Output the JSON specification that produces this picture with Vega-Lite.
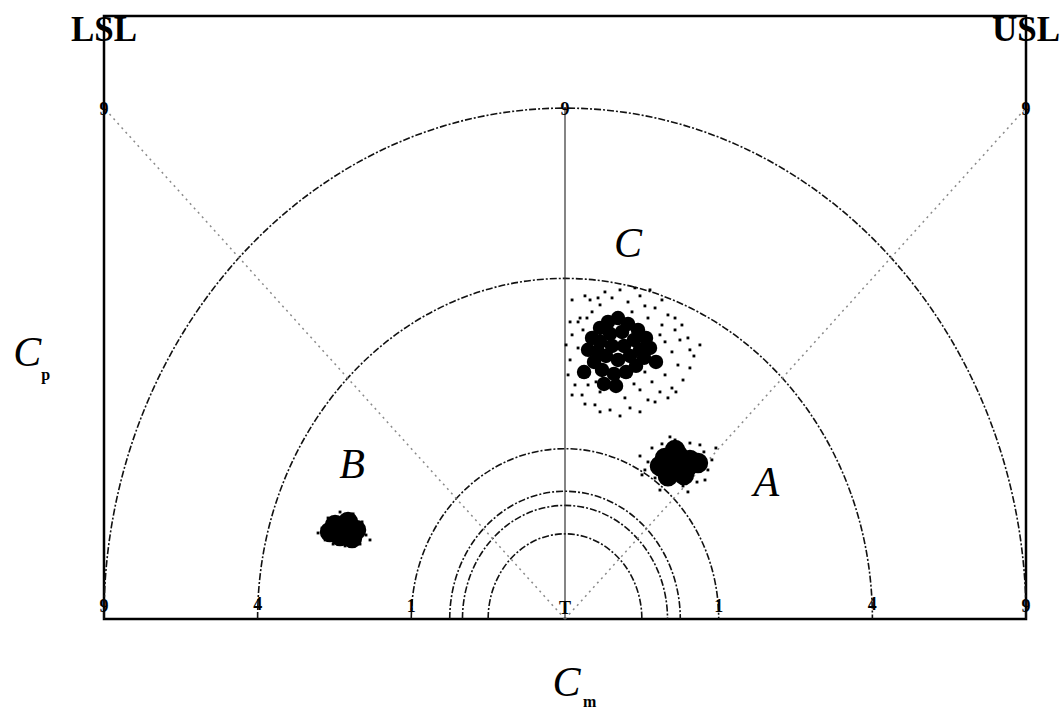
{
  "$schema": "https://vega.github.io/schema/vega-lite/v6.json",
  "width": 922,
  "height": 603,
  "autosize": {"type": "none"},
  "padding": {"left": 104, "top": 16, "right": 34, "bottom": 95},
  "background": "white",
  "config": {"view": {"stroke": "#000", "strokeWidth": 2.5}},
  "datasets": {
    "ellipses": [{"x": 0, "y": 0, "r": 3}, {"x": 0, "y": 0, "r": 2}, {"x": 0, "y": 0, "r": 1}, {"x": 0, "y": 0, "r": 0.75}, {"x": 0, "y": 0, "r": 0.667}, {"x": 0, "y": 0, "r": 0.5}],
    "rules": [
      {"x": 0, "y": 0, "x2": -3, "y2": 3, "kind": "diag"},
      {"x": 0, "y": 0, "x2": 3, "y2": 3, "kind": "diag"},
      {"x": 0, "y": 0, "x2": 0, "y2": 3, "kind": "axis"}
    ],
    "cores": [
      {"g": "A", "x": 0.651, "y": 0.945}, {"g": "A", "x": 0.735, "y": 0.963}, {"g": "A", "x": 0.813, "y": 0.934},
      {"g": "A", "x": 0.696, "y": 0.875}, {"g": "A", "x": 0.787, "y": 0.881}, {"g": "A", "x": 0.618, "y": 0.898},
      {"g": "A", "x": 0.865, "y": 0.916}, {"g": "A", "x": 0.716, "y": 0.992}, {"g": "A", "x": 0.67, "y": 0.838},
      {"g": "A", "x": 0.774, "y": 0.845},
      {"g": "B", "x": -1.496, "y": 0.552}, {"g": "B", "x": -1.412, "y": 0.57}, {"g": "B", "x": -1.36, "y": 0.523},
      {"g": "B", "x": -1.464, "y": 0.487}, {"g": "B", "x": -1.386, "y": 0.476}, {"g": "B", "x": -1.529, "y": 0.511}
    ],
    "coreC": [
      {"x": 0.176, "y": 1.65}, {"x": 0.228, "y": 1.709}, {"x": 0.28, "y": 1.744}, {"x": 0.345, "y": 1.767},
      {"x": 0.41, "y": 1.732}, {"x": 0.475, "y": 1.697}, {"x": 0.527, "y": 1.65}, {"x": 0.553, "y": 1.591},
      {"x": 0.514, "y": 1.533}, {"x": 0.462, "y": 1.486}, {"x": 0.397, "y": 1.45}, {"x": 0.319, "y": 1.439},
      {"x": 0.241, "y": 1.462}, {"x": 0.189, "y": 1.509}, {"x": 0.15, "y": 1.58}, {"x": 0.228, "y": 1.627},
      {"x": 0.293, "y": 1.674}, {"x": 0.371, "y": 1.685}, {"x": 0.449, "y": 1.638}, {"x": 0.488, "y": 1.58},
      {"x": 0.423, "y": 1.544}, {"x": 0.345, "y": 1.521}, {"x": 0.267, "y": 1.544}, {"x": 0.215, "y": 1.568},
      {"x": 0.306, "y": 1.603}, {"x": 0.384, "y": 1.603}, {"x": 0.332, "y": 1.368}, {"x": 0.124, "y": 1.45},
      {"x": 0.592, "y": 1.509}, {"x": 0.254, "y": 1.38}
    ],
    "scatter": [
      {"x": 0.488, "y": 0.957}, {"x": 0.52, "y": 0.875}, {"x": 0.566, "y": 1.004}, {"x": 0.586, "y": 0.828},
      {"x": 0.631, "y": 1.028}, {"x": 0.67, "y": 0.793}, {"x": 0.716, "y": 1.051}, {"x": 0.768, "y": 0.781},
      {"x": 0.813, "y": 1.033}, {"x": 0.859, "y": 0.804}, {"x": 0.904, "y": 0.981}, {"x": 0.93, "y": 0.875},
      {"x": 0.956, "y": 0.934}, {"x": 0.54, "y": 0.922}, {"x": 0.878, "y": 1.022}, {"x": 0.618, "y": 0.757},
      {"x": 0.8, "y": 0.746}, {"x": 0.683, "y": 1.069}, {"x": 0.982, "y": 1.004}, {"x": 0.501, "y": 0.846},
      {"x": 0.911, "y": 0.816},
      {"x": -1.581, "y": 0.534}, {"x": -1.561, "y": 0.464}, {"x": -1.542, "y": 0.593}, {"x": -1.464, "y": 0.628},
      {"x": -1.379, "y": 0.617}, {"x": -1.321, "y": 0.57}, {"x": -1.295, "y": 0.493}, {"x": -1.334, "y": 0.44},
      {"x": -1.431, "y": 0.429}, {"x": -1.509, "y": 0.44}, {"x": -1.269, "y": 0.464}, {"x": -1.607, "y": 0.505},
      {"x": 0.046, "y": 1.873}, {"x": 0.13, "y": 1.897}, {"x": 0.228, "y": 1.844}, {"x": 0.306, "y": 1.885},
      {"x": 0.41, "y": 1.861}, {"x": 0.488, "y": 1.897}, {"x": 0.586, "y": 1.826}, {"x": 0.67, "y": 1.785},
      {"x": 0.098, "y": 1.767}, {"x": 0.176, "y": 1.803}, {"x": 0.54, "y": 1.767}, {"x": 0.631, "y": 1.726},
      {"x": 0.716, "y": 1.697}, {"x": 0.8, "y": 1.65}, {"x": 0.046, "y": 1.668}, {"x": 0.085, "y": 1.591},
      {"x": 0.033, "y": 1.521}, {"x": 0.098, "y": 1.433}, {"x": 0.15, "y": 1.374}, {"x": 0.228, "y": 1.333},
      {"x": 0.306, "y": 1.356}, {"x": 0.39, "y": 1.298}, {"x": 0.488, "y": 1.345}, {"x": 0.566, "y": 1.392},
      {"x": 0.651, "y": 1.433}, {"x": 0.735, "y": 1.491}, {"x": 0.813, "y": 1.58}, {"x": 0.651, "y": 1.627},
      {"x": 0.111, "y": 1.315}, {"x": 0.195, "y": 1.257}, {"x": 0.293, "y": 1.227}, {"x": 0.423, "y": 1.239},
      {"x": 0.54, "y": 1.286}, {"x": 0.618, "y": 1.333}, {"x": 0.065, "y": 1.374}, {"x": 0.878, "y": 1.609},
      {"x": 0.117, "y": 1.697}, {"x": 0.358, "y": 1.932}, {"x": 0.553, "y": 1.932}, {"x": 0.436, "y": 1.803},
      {"x": 0.267, "y": 1.767}, {"x": 0.52, "y": 1.45}, {"x": 0.618, "y": 1.509}, {"x": 0.13, "y": 1.462},
      {"x": 0.696, "y": 1.568}, {"x": 0.345, "y": 1.403}, {"x": 0.202, "y": 1.392}, {"x": 0.449, "y": 1.38},
      {"x": 0.67, "y": 1.298}, {"x": 0.813, "y": 1.474},
      {"x": 0.085, "y": 1.744}, {"x": 0.163, "y": 1.873}, {"x": 0.26, "y": 1.92}, {"x": 0.455, "y": 1.944},
      {"x": 0.631, "y": 1.873}, {"x": 0.716, "y": 1.767}, {"x": 0.761, "y": 1.726}, {"x": 0.839, "y": 1.544},
      {"x": 0.768, "y": 1.403}, {"x": 0.696, "y": 1.356}, {"x": 0.586, "y": 1.274}, {"x": 0.488, "y": 1.216},
      {"x": 0.358, "y": 1.192}, {"x": 0.228, "y": 1.216}, {"x": 0.13, "y": 1.262}, {"x": 0.046, "y": 1.315},
      {"x": 0.02, "y": 1.433}, {"x": 0.007, "y": 1.609}, {"x": 0.033, "y": 1.744}, {"x": 0.618, "y": 1.668},
      {"x": 0.143, "y": 1.767}, {"x": 0.52, "y": 1.838}, {"x": 0.215, "y": 1.885}, {"x": 0.748, "y": 1.638},
      {"x": 0.722, "y": 1.333}
    ],
    "ticks": [
      {"x": -3, "y": 2.99, "t": "9"}, {"x": 0, "y": 2.99, "t": "9"}, {"x": 3, "y": 2.99, "t": "9"},
      {"x": -3, "y": 0.07, "t": "9"}, {"x": -2, "y": 0.08, "t": "4"}, {"x": -1, "y": 0.07, "t": "1"},
      {"x": 0, "y": 0.06, "t": "T"}, {"x": 1, "y": 0.07, "t": "1"}, {"x": 2, "y": 0.08, "t": "4"},
      {"x": 3, "y": 0.07, "t": "9"}
    ],
    "letters": [
      {"x": 0.41, "y": 2.2, "t": "C"}, {"x": -1.386, "y": 0.904, "t": "B"}, {"x": 1.31, "y": 0.8, "t": "A"}
    ],
    "limits": [{"x": -3, "y": 3.54, "t": "LSL"}, {"x": 3, "y": 3.54, "t": "USL"}],
    "titles": [{"x": 0.01, "y": -0.376, "t": "C"}, {"x": -3.5, "y": 1.56, "t": "C"}],
    "subs": [{"x": 0.16, "y": -0.49, "t": "m"}, {"x": -3.38, "y": 1.43, "t": "p"}]
  },
  "encoding": {
    "x": {"field": "x", "type": "quantitative", "scale": {"domain": [-3, 3], "nice": false, "zero": false}, "axis": null},
    "y": {"field": "y", "type": "quantitative", "scale": {"domain": [0, 3.54], "nice": false, "zero": false}, "axis": null}
  },
  "layer": [
    {
      "data": {"name": "ellipses"},
      "mark": {"type": "point", "shape": "M-1,0A1,1.108,0,0,1,1,0", "filled": false, "stroke": "#111", "strokeWidth": 1.6, "strokeDash": [7, 2, 2, 2], "opacity": 1},
      "encoding": {
        "size": {"field": "r", "type": "quantitative", "scale": {"type": "pow", "exponent": 2, "domain": [0, 3], "range": [0, 850453]}, "legend": null}
      }
    },
    {
      "data": {"name": "rules"},
      "transform": [{"filter": "datum.kind === 'diag'"}],
      "mark": {"type": "rule", "stroke": "#8a8a8a", "strokeWidth": 1.5, "strokeDash": [2, 4]},
      "encoding": {"x2": {"field": "x2"}, "y2": {"field": "y2"}}
    },
    {
      "data": {"name": "rules"},
      "transform": [{"filter": "datum.kind === 'axis'"}],
      "mark": {"type": "rule", "stroke": "#333", "strokeWidth": 1.2},
      "encoding": {"x2": {"field": "x2"}, "y2": {"field": "y2"}}
    },
    {
      "data": {"name": "cores"},
      "mark": {"type": "point", "shape": "circle", "filled": true, "fill": "#000", "size": 420, "opacity": 1},
      "encoding": {}
    },
    {
      "data": {"name": "coreC"},
      "mark": {"type": "point", "shape": "circle", "filled": true, "fill": "#000", "size": 210, "opacity": 1},
      "encoding": {}
    },
    {
      "data": {"name": "scatter"},
      "mark": {"type": "point", "shape": "square", "filled": true, "fill": "#000", "size": 8, "opacity": 1},
      "encoding": {}
    },
    {
      "data": {"name": "ticks"},
      "mark": {"type": "text", "font": "Liberation Serif", "fontWeight": "bold", "fontSize": 18, "baseline": "middle", "align": "center", "color": "#000"},
      "encoding": {"text": {"field": "t"}}
    },
    {
      "data": {"name": "letters"},
      "mark": {"type": "text", "font": "Liberation Serif", "fontStyle": "italic", "fontSize": 42, "baseline": "middle", "align": "center", "color": "#000"},
      "encoding": {"text": {"field": "t"}}
    },
    {
      "data": {"name": "limits"},
      "mark": {"type": "text", "font": "Liberation Serif", "fontWeight": "bold", "fontSize": 35, "baseline": "middle", "align": "center", "dy": 14, "color": "#000"},
      "encoding": {"text": {"field": "t"}}
    },
    {
      "data": {"name": "titles"},
      "mark": {"type": "text", "font": "Liberation Serif", "fontStyle": "italic", "fontSize": 42, "baseline": "middle", "align": "center", "color": "#000"},
      "encoding": {"text": {"field": "t"}}
    },
    {
      "data": {"name": "subs"},
      "mark": {"type": "text", "font": "Liberation Serif", "fontWeight": "bold", "fontSize": 16, "baseline": "middle", "align": "center", "color": "#000"},
      "encoding": {"text": {"field": "t"}}
    }
  ]
}
